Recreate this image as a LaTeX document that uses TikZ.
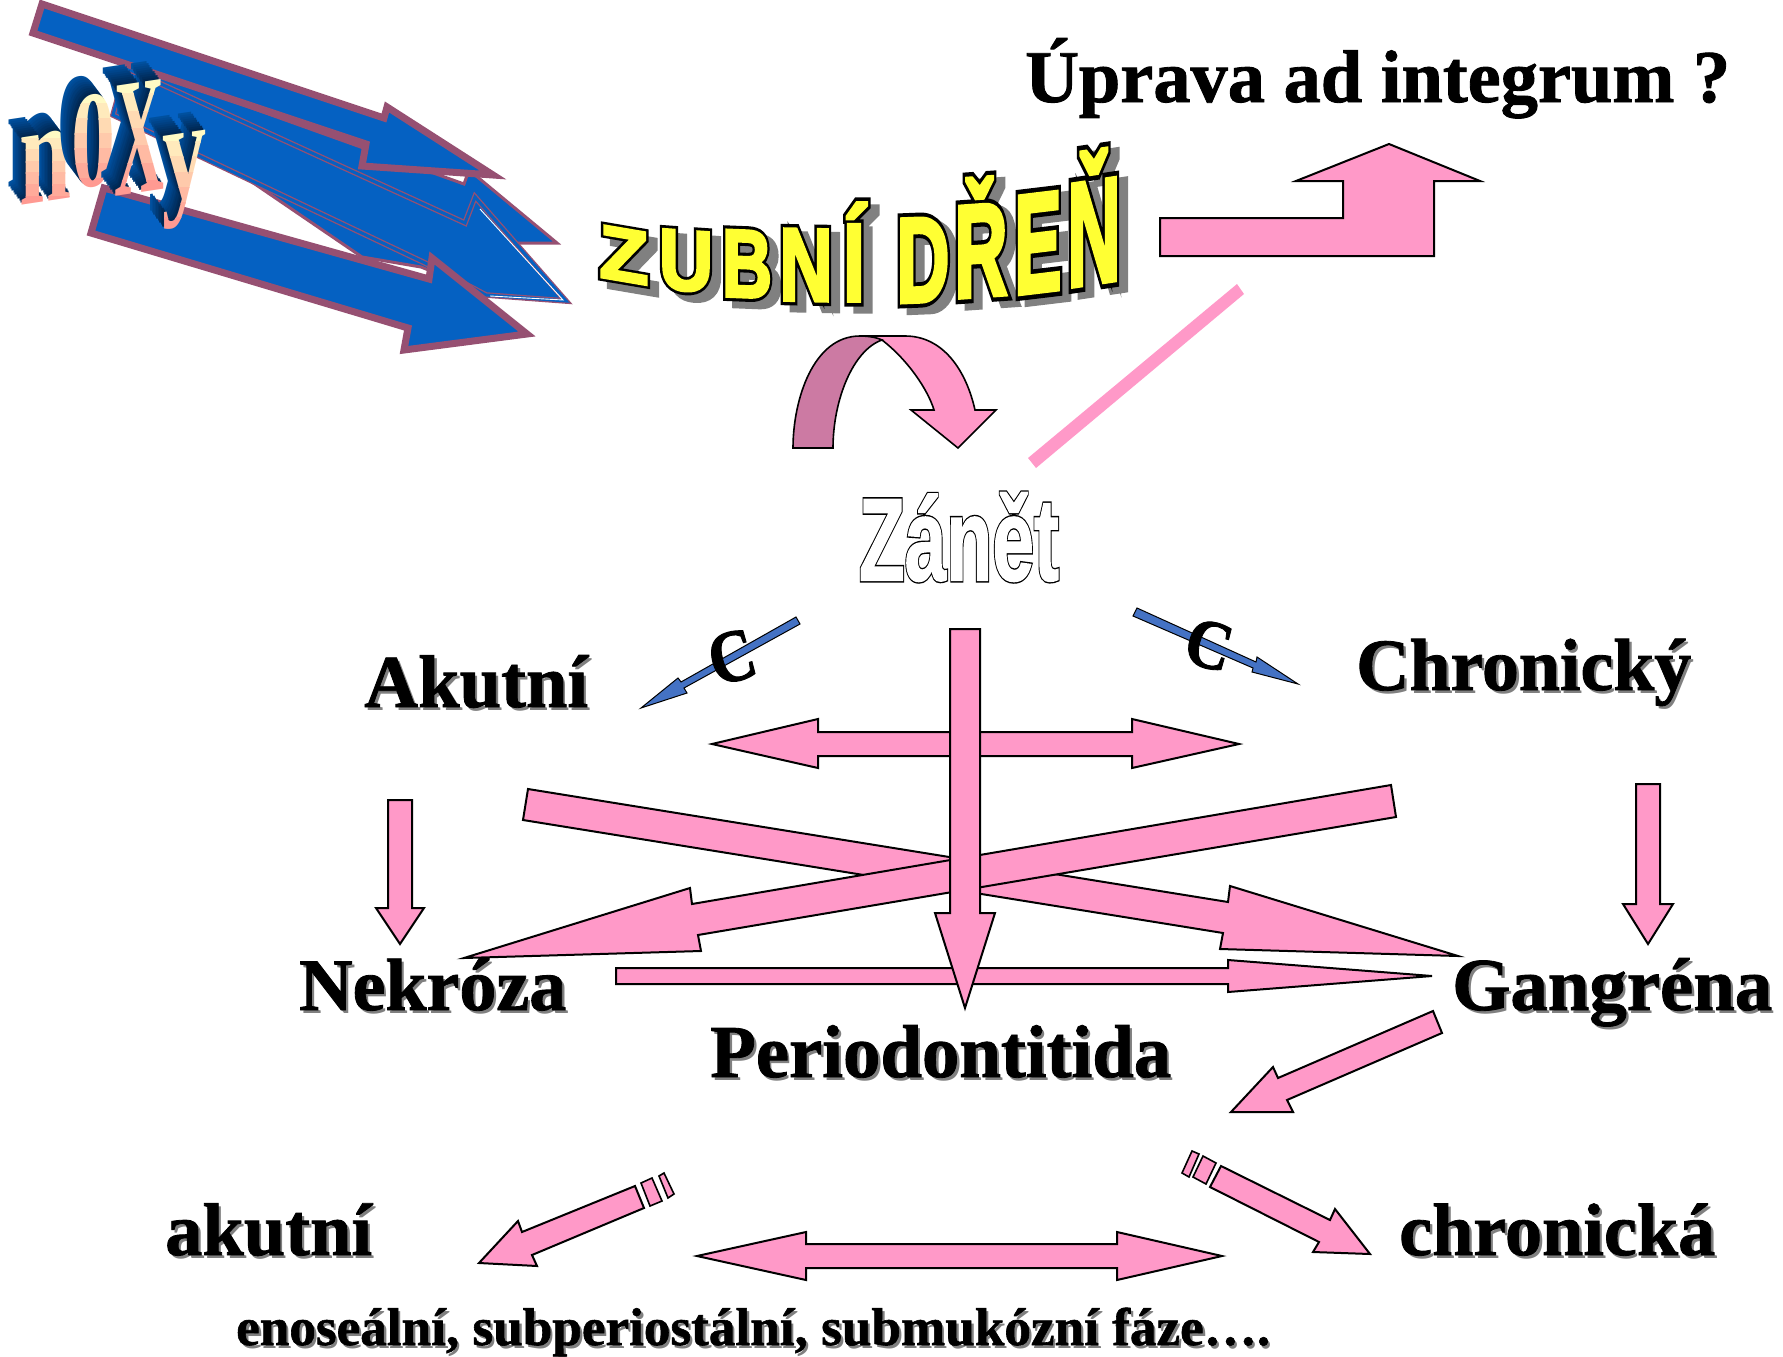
\documentclass[tikz,border=0pt]{standalone}
\usepackage{fontspec}
\usepackage{graphicx}
\setmainfont{Liberation Serif}
\newfontfamily\wordart{Liberation Sans}
\definecolor{pinkf}{HTML}{FF99C8}
\definecolor{pinkd}{HTML}{CC7AA3}
\definecolor{noxblue}{HTML}{0561C2}
\definecolor{noxedge}{HTML}{965072}
\definecolor{smallblue}{HTML}{4472C4}
\definecolor{zyel}{HTML}{FFFF33}
\definecolor{frtop}{HTML}{FFFAC4}
\definecolor{frbot}{HTML}{FF9A92}
\definecolor{exfar}{HTML}{00509F}
\definecolor{exnear}{HTML}{002248}
\newcommand\outlgray[2]{\special{pdf:code q #1 w 0.5 0.5 0.5 RG 2 Tr}#2\special{pdf:code Q}}
\newcommand\boldtxt[1]{\special{pdf:code q 0.9 w 0 0 0 RG 2 Tr}#1\special{pdf:code Q}}
% grid of small dots for the WordArt fill
\newcount\gx \newcount\gy \newcount\gs
\def\zdots{}
\gy=-30
\loop
  \gx=-10 \gs=\gy \divide\gs by 9
  \ifodd\gs \advance\gx by 4 \fi
  \loop
    \edef\zdots{\zdots\the\gx\space\the\gy\space 2.6 2.2 re }
    \advance\gx by 8
  \ifnum\gx<90 \repeat
  \advance\gy by 9
\ifnum\gy<110 \repeat
\newcommand\fatletter[1]{%
  \rlap{\special{pdf:code q 10 w 0 0 0 RG 2 Tr}#1\special{pdf:code Q}}%
  \rlap{\special{pdf:code q 3.5 w 1 1 0.2 RG 2 Tr}#1\special{pdf:code Q}}%
  \rlap{\special{pdf:code q 7 Tr}#1\special{pdf:content 0.62 0.62 0.12 rg \zdots f}\special{pdf:code Q}}%
  \phantom{#1}}
\newcommand\fatwhite[1]{%
  \rlap{\special{pdf:code q 3.8 w 0 0 0 RG 2 Tr}#1\special{pdf:code Q}}%
  \special{pdf:code q 1.4 w 1 1 1 RG 2 Tr}#1\special{pdf:code Q}}
\tikzset{
  parr/.style={draw=black,line width=2pt,fill=pinkf,line join=miter,miter limit=10},
  sarr/.style={draw=black,line width=1pt,fill=smallblue,line join=miter},
  narr/.style={draw=noxedge,line width=7pt,fill=noxblue,line join=miter,miter limit=10},
  narrd/.style={draw=noxedge,line width=1.3pt,double=noxblue,double distance=3pt,fill=noxblue,line join=miter,miter limit=10},
  tx/.style={inner sep=0pt,anchor=base west},
}
% x y width text : shadowed bold label
\newcommand\lbl[5]{%
  \node[tx,text=gray] at (#2+3,#3+3) {\resizebox{#4pt}{!}{\fontsize{80}{90}\bfseries #5}};
  \node[tx] (#1) at (#2,#3) {\resizebox{#4pt}{!}{\fontsize{80}{90}\bfseries \boldtxt{#5}}};
}
% WordArt letter: cx cy w h slope char
\newcommand\zl[7]{%
  \begin{scope}[shift={(#2,#3)},yslant=#6,every node/.style={transform shape,inner sep=0pt}]
    \node[text=gray] at (9,7) {\resizebox*{#4pt}{#5pt}{\fontsize{100}{110}\wordart\bfseries\outlgray{10}{#7}}};
    \node[text=zyel] (#1) at (0,0) {\resizebox*{#4pt}{#5pt}{\fontsize{100}{110}\wordart\bfseries\fatletter{#7}}};
  \end{scope}}
% noxy letter: cx cy w h char
\newcommand\nx[6]{%
  \foreach \i in {9,8,...,1}{
    \pgfmathsetmacro\pc{\i*11}
    \begin{scope}[shift={({#2-\i*1.45},{#3-\i*2})},yslant=0.15,every node/.style={transform shape,inner sep=0pt}]
    \node[text=exfar!\pc!exnear] at (0,0) {\resizebox*{#4pt}{#5pt}{\fontsize{60}{70}\bfseries #6}};
    \end{scope}
  }
  \foreach \b in {0,...,6}{
    \pgfmathsetmacro\pc{100-\b*100/6}
    \begin{scope}
      \clip ({#2-#4},{#3-#5/2-6+\b*(#5+12)/7-0.3}) rectangle ({#2+#4},{#3-#5/2-6+(\b+1)*(#5+12)/7+0.3});
      \begin{scope}[shift={(#2,#3)},yslant=0.15,every node/.style={transform shape,inner sep=0pt}]
      \node[text=frtop!\pc!frbot] at (0,0) {\resizebox*{#4pt}{#5pt}{\fontsize{60}{70}\bfseries #6}};
      \end{scope}
    \end{scope}
  }
  \coordinate (#1) at (#2,#3);
}
\begin{document}
\begin{tikzpicture}[x=1pt,y=-1pt]
\useasboundingbox (0,0) rectangle (1783,1357);
% ---- blue noxa arrows
\draw[draw=noxedge,line width=3pt,fill=noxblue,line join=miter] (126,63) -- (464,184) -- (469,170) -- (557,243) -- (513,243) -- (478,290) -- (421,267) -- (362,257) -- (249,180) -- cycle;
\draw[narrd] (126,68) -- (465,223) -- (475,197) -- (566,301) -- (486,295) -- (425,263) -- (113,115) -- cycle;
\draw[white,line width=0.9pt] (480,209) -- (563,300) -- (490,296);
\draw[narr] (104,188) -- (429,279) -- (432,258) -- (527,334) -- (404,350) -- (408,328) -- (91,233) -- cycle;
\draw[narr] (42,4) -- (384,118) -- (387,107) -- (493,175) -- (362,166) -- (366,144) -- (33,33) -- cycle;
% ---- noxy
\nx{nxa}{46}{167.5}{52}{69}{n}
\nx{nxb}{93}{141.5}{44}{93}{0}
\nx{nxc}{139}{137.5}{50}{110}{X}
\nx{nxd}{184}{180}{44}{94}{y}
% ---- title
\node[tx] (uprava) at (1025,102) {\resizebox{705pt}{!}{\fontsize{76}{90}\bfseries \boldtxt{Úprava ad integrum ?}}};
% ---- ZUBNI DREN
\zl{zz}{624}{255}{49}{52}{-0.17}{Z}
\zl{zu}{686}{261}{54}{60}{-0.07}{U}
\zl{zb}{747}{264}{50}{66}{-0.04}{B}
\zl{zn}{806}{265}{53}{71}{-0.02}{N}
\zl{zi}{854}{252}{22}{98}{0}{Í}
\zl{zd}{923}{260}{53}{83}{0.04}{D}
\zl{zr}{981}{237}{53}{118}{0.07}{Ř}
\zl{ze}{1038}{243}{47}{97}{0.12}{E}
\zl{zm}{1094}{217}{53}{132}{0.15}{Ň}
% ---- bent up arrow
\draw[parr] (1160,218) -- (1343,218) -- (1343,181) -- (1296,181) -- (1389,144) -- (1480,181) -- (1434,181) -- (1434,256) -- (1160,256) -- cycle;
% ---- pink bar
\coordinate (bara) at (1237,284);
\coordinate (barb) at (1244,294);
\coordinate (barc) at (1036,468);
\coordinate (bard) at (1028,458);
\fill[pinkf] (bara) -- (barb) -- (barc) -- (bard) -- cycle;
% ---- curved arrow
\draw[parr,line width=1.6pt] (860,336) -- (882,340) .. controls (908,360) and (928,390) .. (934,410) -- (911,410) -- (958,448) -- (996,410) -- (975,410) .. controls (966,370) and (943,336) .. (905,336) -- cycle;
\draw[draw=black,line width=1.6pt,fill=pinkd] (793,448) .. controls (793,400) and (813,336) .. (860,336) .. controls (870,336) and (878,338) .. (882,340) .. controls (853,350) and (833,400) .. (833,448) -- cycle;
% ---- Zanet
\node[inner sep=0pt,text=white] (zanet) at (959,537) {\resizebox*{200pt}{89pt}{\fontsize{100}{110}\wordart\bfseries\fatwhite{Zánět}}};
% ---- small blue arrows
\draw[sarr] (796,617) -- (800,624) -- (684,688) -- (687,693) -- (641,708) -- (678,678) -- (681,682) -- cycle;
\draw[sarr] (1137,608) -- (1133,616) -- (1253,668) -- (1252,672) -- (1298,684) -- (1257,657) -- (1256,662) -- cycle;
\node[inner sep=0pt,rotate=15] (cl) at (732,657) {\resizebox*{46pt}{50pt}{\fontsize{70}{80}\bfseries \boldtxt{C}}};
\node[inner sep=0pt,rotate=-15] (cr) at (1209,645) {\resizebox*{46pt}{47pt}{\fontsize{70}{80}\bfseries \boldtxt{C}}};
% ---- horizontal double arrow
\draw[parr] (712,744) -- (818,719) -- (818,732) -- (1132,732) -- (1132,719) -- (1239,744) -- (1132,768) -- (1132,756) -- (818,756) -- (818,768) -- cycle;
% ---- side arrows
\draw[parr] (388,800) -- (412,800) -- (412,908) -- (424,908) -- (400,944) -- (376,908) -- (388,908) -- cycle;
\draw[parr] (1636,784) -- (1660,784) -- (1660,904) -- (1673,904) -- (1648,944) -- (1623,904) -- (1636,904) -- cycle;
% ---- crossing arrows
\draw[parr] (528,789) -- (1228,902) -- (1230,886) -- (1458,956) -- (1220,949) -- (1223,933) -- (523,820) -- cycle;
\draw[parr] (1391,785) -- (692,904) -- (690,888) -- (464,958) -- (701,951) -- (698,935) -- (1396,817) -- cycle;
\draw[parr] (616,968) -- (1228,968) -- (1228,960) -- (1432,976) -- (1228,992) -- (1228,984) -- (616,984) -- cycle;
\draw[parr] (950,629) -- (980,629) -- (980,913) -- (995,913) -- (965,1008) -- (935,913) -- (950,913) -- cycle;
% ---- lower arrows
\draw[parr] (1433,1011) -- (1442,1033) -- (1287,1100) -- (1293,1112) -- (1231,1112) -- (1273,1067) -- (1278,1078) -- cycle;
\draw[parr] (1221,1166) -- (1330,1220) -- (1335,1209) -- (1370,1254) -- (1313,1252) -- (1319,1242) -- (1210,1187) -- cycle;
\draw[parr,line width=1.6pt] (1203,1156) -- (1216,1163) -- (1206,1184) -- (1193,1177) -- cycle;
\draw[parr,line width=1.6pt] (1192,1151) -- (1199,1154) -- (1189,1177) -- (1182,1173) -- cycle;
\draw[parr] (635,1186) -- (644,1208) -- (532,1255) -- (537,1266) -- (479,1263) -- (518,1221) -- (522,1232) -- cycle;
\draw[parr,line width=1.6pt] (652,1178) -- (662,1201) -- (650,1206) -- (641,1183) -- cycle;
\draw[parr,line width=1.6pt] (664,1173) -- (674,1194) -- (668,1198) -- (659,1176) -- cycle;
\draw[parr] (697,1256) -- (806,1232) -- (806,1244) -- (1117,1244) -- (1117,1232) -- (1222,1256) -- (1117,1280) -- (1117,1268) -- (806,1268) -- (806,1280) -- cycle;
% ---- labels
\lbl{akutnilbl}{364}{707}{224}{Akutní}
\lbl{chronicky}{1356}{690}{335}{Chronický}
\lbl{nekroza}{299}{1010}{267}{Nekróza}
\lbl{gangrena}{1452}{1010}{320}{Gangréna}
\lbl{perio}{710}{1077}{461}{Periodontitida}
\lbl{akutni2}{165}{1255}{207}{akutní}
\lbl{chronicka}{1399}{1255}{316}{chronická}
\lbl{faze}{236}{1345}{1034}{enoseální, subperiostální, submukózní fáze….}
\end{tikzpicture}
\end{document}
